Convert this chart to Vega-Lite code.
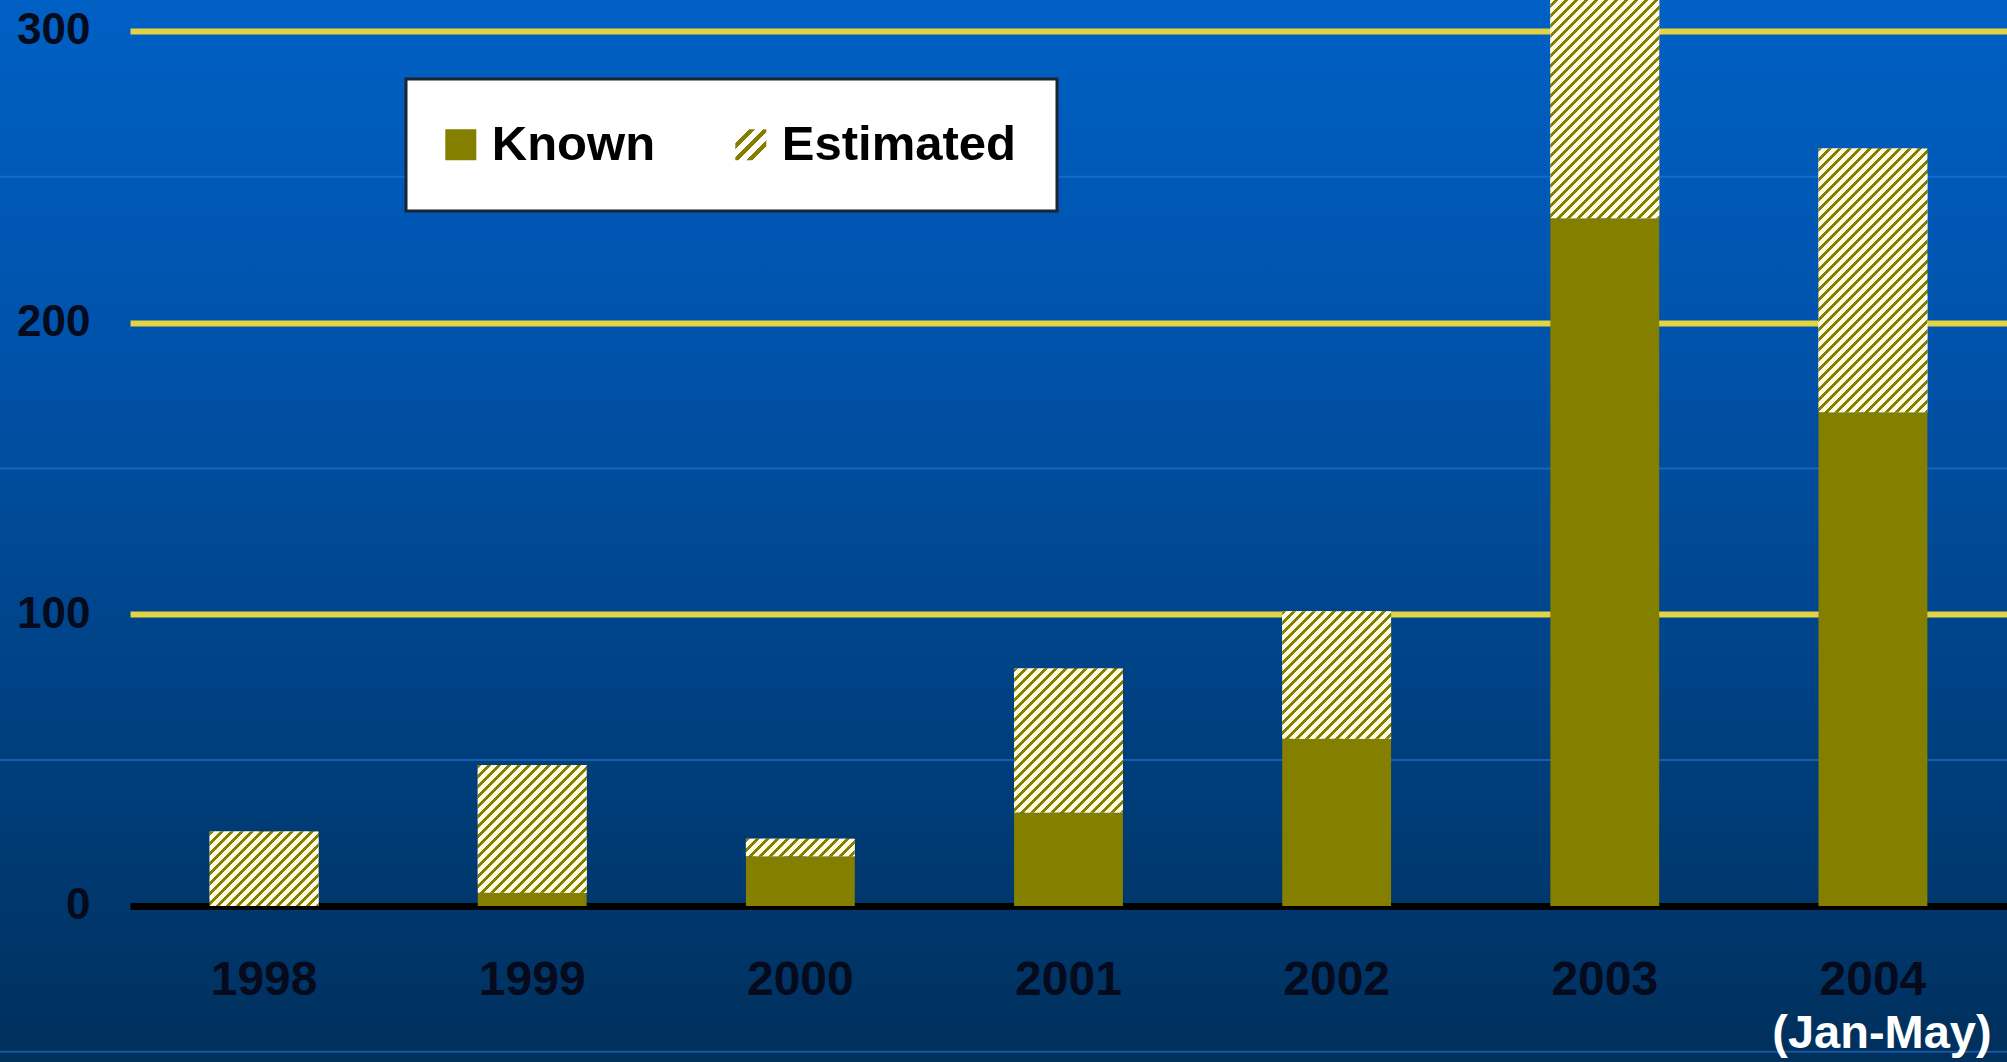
{
"$schema": "https://vega.github.io/schema/vega-lite/v6.json",
"width": 2007, "height": 1062, "autosize": {"type": "none"}, "padding": 0,
"background": "#003a75",
"view": {"stroke": null, "fill": {"gradient": "linear", "x1": 0, "y1": 0, "x2": 0, "y2": 1, "stops": [{"offset": 0, "color": "#0060c4"}, {"offset": 0.35, "color": "#0051a8"}, {"offset": 0.7, "color": "#003f7e"}, {"offset": 1, "color": "#00305c"}]}},
"params": [
{"name": "hatch", "value": [
{"offset":0,"color":"#857f00"},{"offset":0.008,"color":"#857f00"},{"offset":0.008,"color":"#fffce3"},{"offset":0.02,"color":"#fffce3"},
{"offset":0.02,"color":"#857f00"},{"offset":0.028,"color":"#857f00"},{"offset":0.028,"color":"#fffce3"},{"offset":0.04,"color":"#fffce3"},
{"offset":0.04,"color":"#857f00"},{"offset":0.048,"color":"#857f00"},{"offset":0.048,"color":"#fffce3"},{"offset":0.06,"color":"#fffce3"},
{"offset":0.06,"color":"#857f00"},{"offset":0.068,"color":"#857f00"},{"offset":0.068,"color":"#fffce3"},{"offset":0.08,"color":"#fffce3"},
{"offset":0.08,"color":"#857f00"},{"offset":0.088,"color":"#857f00"},{"offset":0.088,"color":"#fffce3"},{"offset":0.10,"color":"#fffce3"},
{"offset":0.10,"color":"#857f00"},{"offset":0.108,"color":"#857f00"},{"offset":0.108,"color":"#fffce3"},{"offset":0.12,"color":"#fffce3"},
{"offset":0.12,"color":"#857f00"},{"offset":0.128,"color":"#857f00"},{"offset":0.128,"color":"#fffce3"},{"offset":0.14,"color":"#fffce3"},
{"offset":0.14,"color":"#857f00"},{"offset":0.148,"color":"#857f00"},{"offset":0.148,"color":"#fffce3"},{"offset":0.16,"color":"#fffce3"},
{"offset":0.16,"color":"#857f00"},{"offset":0.168,"color":"#857f00"},{"offset":0.168,"color":"#fffce3"},{"offset":0.18,"color":"#fffce3"},
{"offset":0.18,"color":"#857f00"},{"offset":0.188,"color":"#857f00"},{"offset":0.188,"color":"#fffce3"},{"offset":0.20,"color":"#fffce3"},
{"offset":0.20,"color":"#857f00"},{"offset":0.208,"color":"#857f00"},{"offset":0.208,"color":"#fffce3"},{"offset":0.22,"color":"#fffce3"},
{"offset":0.22,"color":"#857f00"},{"offset":0.228,"color":"#857f00"},{"offset":0.228,"color":"#fffce3"},{"offset":0.24,"color":"#fffce3"},
{"offset":0.24,"color":"#857f00"},{"offset":0.248,"color":"#857f00"},{"offset":0.248,"color":"#fffce3"},{"offset":0.26,"color":"#fffce3"},
{"offset":0.26,"color":"#857f00"},{"offset":0.268,"color":"#857f00"},{"offset":0.268,"color":"#fffce3"},{"offset":0.28,"color":"#fffce3"},
{"offset":0.28,"color":"#857f00"},{"offset":0.288,"color":"#857f00"},{"offset":0.288,"color":"#fffce3"},{"offset":0.30,"color":"#fffce3"},
{"offset":0.30,"color":"#857f00"},{"offset":0.308,"color":"#857f00"},{"offset":0.308,"color":"#fffce3"},{"offset":0.32,"color":"#fffce3"},
{"offset":0.32,"color":"#857f00"},{"offset":0.328,"color":"#857f00"},{"offset":0.328,"color":"#fffce3"},{"offset":0.34,"color":"#fffce3"},
{"offset":0.34,"color":"#857f00"},{"offset":0.348,"color":"#857f00"},{"offset":0.348,"color":"#fffce3"},{"offset":0.36,"color":"#fffce3"},
{"offset":0.36,"color":"#857f00"},{"offset":0.368,"color":"#857f00"},{"offset":0.368,"color":"#fffce3"},{"offset":0.38,"color":"#fffce3"},
{"offset":0.38,"color":"#857f00"},{"offset":0.388,"color":"#857f00"},{"offset":0.388,"color":"#fffce3"},{"offset":0.40,"color":"#fffce3"},
{"offset":0.40,"color":"#857f00"},{"offset":0.408,"color":"#857f00"},{"offset":0.408,"color":"#fffce3"},{"offset":0.42,"color":"#fffce3"},
{"offset":0.42,"color":"#857f00"},{"offset":0.428,"color":"#857f00"},{"offset":0.428,"color":"#fffce3"},{"offset":0.44,"color":"#fffce3"},
{"offset":0.44,"color":"#857f00"},{"offset":0.448,"color":"#857f00"},{"offset":0.448,"color":"#fffce3"},{"offset":0.46,"color":"#fffce3"},
{"offset":0.46,"color":"#857f00"},{"offset":0.468,"color":"#857f00"},{"offset":0.468,"color":"#fffce3"},{"offset":0.48,"color":"#fffce3"},
{"offset":0.48,"color":"#857f00"},{"offset":0.488,"color":"#857f00"},{"offset":0.488,"color":"#fffce3"},{"offset":0.50,"color":"#fffce3"},
{"offset":0.50,"color":"#857f00"},{"offset":0.508,"color":"#857f00"},{"offset":0.508,"color":"#fffce3"},{"offset":0.52,"color":"#fffce3"},
{"offset":0.52,"color":"#857f00"},{"offset":0.528,"color":"#857f00"},{"offset":0.528,"color":"#fffce3"},{"offset":0.54,"color":"#fffce3"},
{"offset":0.54,"color":"#857f00"},{"offset":0.548,"color":"#857f00"},{"offset":0.548,"color":"#fffce3"},{"offset":0.56,"color":"#fffce3"},
{"offset":0.56,"color":"#857f00"},{"offset":0.568,"color":"#857f00"},{"offset":0.568,"color":"#fffce3"},{"offset":0.58,"color":"#fffce3"},
{"offset":0.58,"color":"#857f00"},{"offset":0.588,"color":"#857f00"},{"offset":0.588,"color":"#fffce3"},{"offset":0.60,"color":"#fffce3"},
{"offset":0.60,"color":"#857f00"},{"offset":0.608,"color":"#857f00"},{"offset":0.608,"color":"#fffce3"},{"offset":0.62,"color":"#fffce3"},
{"offset":0.62,"color":"#857f00"},{"offset":0.628,"color":"#857f00"},{"offset":0.628,"color":"#fffce3"},{"offset":0.64,"color":"#fffce3"},
{"offset":0.64,"color":"#857f00"},{"offset":0.648,"color":"#857f00"},{"offset":0.648,"color":"#fffce3"},{"offset":0.66,"color":"#fffce3"},
{"offset":0.66,"color":"#857f00"},{"offset":0.668,"color":"#857f00"},{"offset":0.668,"color":"#fffce3"},{"offset":0.68,"color":"#fffce3"},
{"offset":0.68,"color":"#857f00"},{"offset":0.688,"color":"#857f00"},{"offset":0.688,"color":"#fffce3"},{"offset":0.70,"color":"#fffce3"},
{"offset":0.70,"color":"#857f00"},{"offset":0.708,"color":"#857f00"},{"offset":0.708,"color":"#fffce3"},{"offset":0.72,"color":"#fffce3"},
{"offset":0.72,"color":"#857f00"},{"offset":0.728,"color":"#857f00"},{"offset":0.728,"color":"#fffce3"},{"offset":0.74,"color":"#fffce3"},
{"offset":0.74,"color":"#857f00"},{"offset":0.748,"color":"#857f00"},{"offset":0.748,"color":"#fffce3"},{"offset":0.76,"color":"#fffce3"},
{"offset":0.76,"color":"#857f00"},{"offset":0.768,"color":"#857f00"},{"offset":0.768,"color":"#fffce3"},{"offset":0.78,"color":"#fffce3"},
{"offset":0.78,"color":"#857f00"},{"offset":0.788,"color":"#857f00"},{"offset":0.788,"color":"#fffce3"},{"offset":0.80,"color":"#fffce3"},
{"offset":0.80,"color":"#857f00"},{"offset":0.808,"color":"#857f00"},{"offset":0.808,"color":"#fffce3"},{"offset":0.82,"color":"#fffce3"},
{"offset":0.82,"color":"#857f00"},{"offset":0.828,"color":"#857f00"},{"offset":0.828,"color":"#fffce3"},{"offset":0.84,"color":"#fffce3"},
{"offset":0.84,"color":"#857f00"},{"offset":0.848,"color":"#857f00"},{"offset":0.848,"color":"#fffce3"},{"offset":0.86,"color":"#fffce3"},
{"offset":0.86,"color":"#857f00"},{"offset":0.868,"color":"#857f00"},{"offset":0.868,"color":"#fffce3"},{"offset":0.88,"color":"#fffce3"},
{"offset":0.88,"color":"#857f00"},{"offset":0.888,"color":"#857f00"},{"offset":0.888,"color":"#fffce3"},{"offset":0.90,"color":"#fffce3"},
{"offset":0.90,"color":"#857f00"},{"offset":0.908,"color":"#857f00"},{"offset":0.908,"color":"#fffce3"},{"offset":0.92,"color":"#fffce3"},
{"offset":0.92,"color":"#857f00"},{"offset":0.928,"color":"#857f00"},{"offset":0.928,"color":"#fffce3"},{"offset":0.94,"color":"#fffce3"},
{"offset":0.94,"color":"#857f00"},{"offset":0.948,"color":"#857f00"},{"offset":0.948,"color":"#fffce3"},{"offset":0.96,"color":"#fffce3"},
{"offset":0.96,"color":"#857f00"},{"offset":0.968,"color":"#857f00"},{"offset":0.968,"color":"#fffce3"},{"offset":0.98,"color":"#fffce3"},
{"offset":0.98,"color":"#857f00"},{"offset":0.988,"color":"#857f00"},{"offset":0.988,"color":"#fffce3"},{"offset":1,"color":"#fffce3"}
]},
{"name": "legendHatch", "value": {"gradient": "linear", "x1": 0, "y1": 0, "x2": 1, "y2": 1, "stops": [
{"offset":0,"color":"#ffffff"},{"offset":0.22,"color":"#ffffff"},{"offset":0.22,"color":"#857f00"},{"offset":0.32,"color":"#857f00"},
{"offset":0.32,"color":"#ffffff"},{"offset":0.45,"color":"#ffffff"},{"offset":0.45,"color":"#857f00"},{"offset":0.55,"color":"#857f00"},
{"offset":0.55,"color":"#ffffff"},{"offset":0.68,"color":"#ffffff"},{"offset":0.68,"color":"#857f00"},{"offset":0.78,"color":"#857f00"},
{"offset":0.78,"color":"#ffffff"},{"offset":1,"color":"#ffffff"}]}}
],
"data": {"values": [
{"year": "1998", "category": "Known", "count": 0},
{"year": "1998", "category": "Estimated", "count": 25.5},
{"year": "1999", "category": "Known", "count": 4.5},
{"year": "1999", "category": "Estimated", "count": 43.8},
{"year": "2000", "category": "Known", "count": 17},
{"year": "2000", "category": "Estimated", "count": 6},
{"year": "2001", "category": "Known", "count": 32},
{"year": "2001", "category": "Estimated", "count": 49.4},
{"year": "2002", "category": "Known", "count": 57.3},
{"year": "2002", "category": "Estimated", "count": 43.7},
{"year": "2003", "category": "Known", "count": 235.8},
{"year": "2003", "category": "Estimated", "count": 94},
{"year": "2004", "category": "Known", "count": 169.3},
{"year": "2004", "category": "Estimated", "count": 90.4}
]},
"layer": [
{
"data": {"values": [{"line": -50}, {"line": 50}, {"line": 150}, {"line": 250}]},
"mark": {"type": "rule", "color": "#2b78d6", "strokeWidth": 2, "opacity": 0.55},
"encoding": {"y": {"field": "line", "type": "quantitative"}}
},
{
"transform": [{"stack": "count", "groupby": ["year"], "sort": [{"field": "category", "order": "descending"}], "as": ["lo", "hi"]}],
"mark": {"type": "bar"},
"encoding": {
"x": {"field": "year", "type": "nominal", "sort": null,
"scale": {"type": "band", "range": [130, 2007], "paddingInner": 0.594, "paddingOuter": 0.297},
"axis": {"orient": "bottom", "offset": -156, "domain": false, "ticks": false, "grid": false, "labelPadding": 50, "labelAngle": 0, "labelFontSize": 48, "labelFontWeight": "bold", "labelFont": "Liberation Sans", "labelColor": "#050b1c", "title": null}},
"y": {"field": "lo", "type": "quantitative",
"scale": {"domain": [-53.5, 310.6], "nice": false, "zero": false},
"axis": {"values": [0, 100, 200, 300], "offset": -130, "domain": false, "ticks": false, "tickSize": 0, "labelPadding": 40, "labelFontSize": 44, "labelFontWeight": "bold", "labelFont": "Liberation Sans", "labelColor": "#050b1c", "title": null, "grid": true,
"gridColor": {"condition": {"test": "datum.value === 0", "value": "#000000"}, "value": "#e3d444"},
"gridWidth": {"condition": {"test": "datum.value === 0", "value": 7}, "value": 6}, "gridOpacity": 1}},
"y2": {"field": "hi"},
"fill": {"field": "category", "type": "nominal",
"scale": {"domain": ["Known", "Estimated"], "range": ["#857f00", {"expr": "legendHatch"}]},
"legend": {"orient": "none", "legendX": 406, "legendY": 79, "direction": "horizontal", "title": null, "fillColor": "#ffffff", "strokeColor": "#1a2433", "padding": 41, "columnPadding": 79, "symbolType": "square", "symbolSize": 961, "symbolStrokeWidth": 0, "symbolOffset": -10.7, "symbolOpacity": 1, "labelFontSize": 49, "labelFont": "Liberation Sans", "labelFontWeight": "bold", "labelColor": "#000000", "labelOffset": 6.5, "labelLimit": 0}}
}
},
{
"transform": [{"stack": "count", "groupby": ["year"], "sort": [{"field": "category", "order": "descending"}], "as": ["lo", "hi"]}, {"filter": "datum.category === 'Estimated'"}],
"mark": {"type": "bar", "fill": {"expr": "{gradient:'linear',x1:0,y1:0,x2:500*bandwidth('x')/(pow(bandwidth('x'),2)+pow(scale('y',datum.lo)-scale('y',datum.hi),2)),y2:500*(scale('y',datum.lo)-scale('y',datum.hi))/(pow(bandwidth('x'),2)+pow(scale('y',datum.lo)-scale('y',datum.hi),2)),stops:hatch}"}},
"encoding": {
"x": {"field": "year", "type": "nominal", "sort": null},
"y": {"field": "lo", "type": "quantitative"},
"y2": {"field": "hi"}
}
},
{
"data": {"values": [{"year": "2004", "note": "(Jan-May)"}]},
"mark": {"type": "text", "color": "#ffffff", "fontSize": 47, "fontWeight": "bold", "font": "Liberation Sans", "dx": 9, "baseline": "middle", "align": "center"},
"encoding": {
"x": {"field": "year", "type": "nominal", "sort": null},
"y": {"datum": -44},
"text": {"field": "note"}
}
}
],
"config": {"font": "Liberation Sans", "legend": {"strokeWidth": 3}}
}
